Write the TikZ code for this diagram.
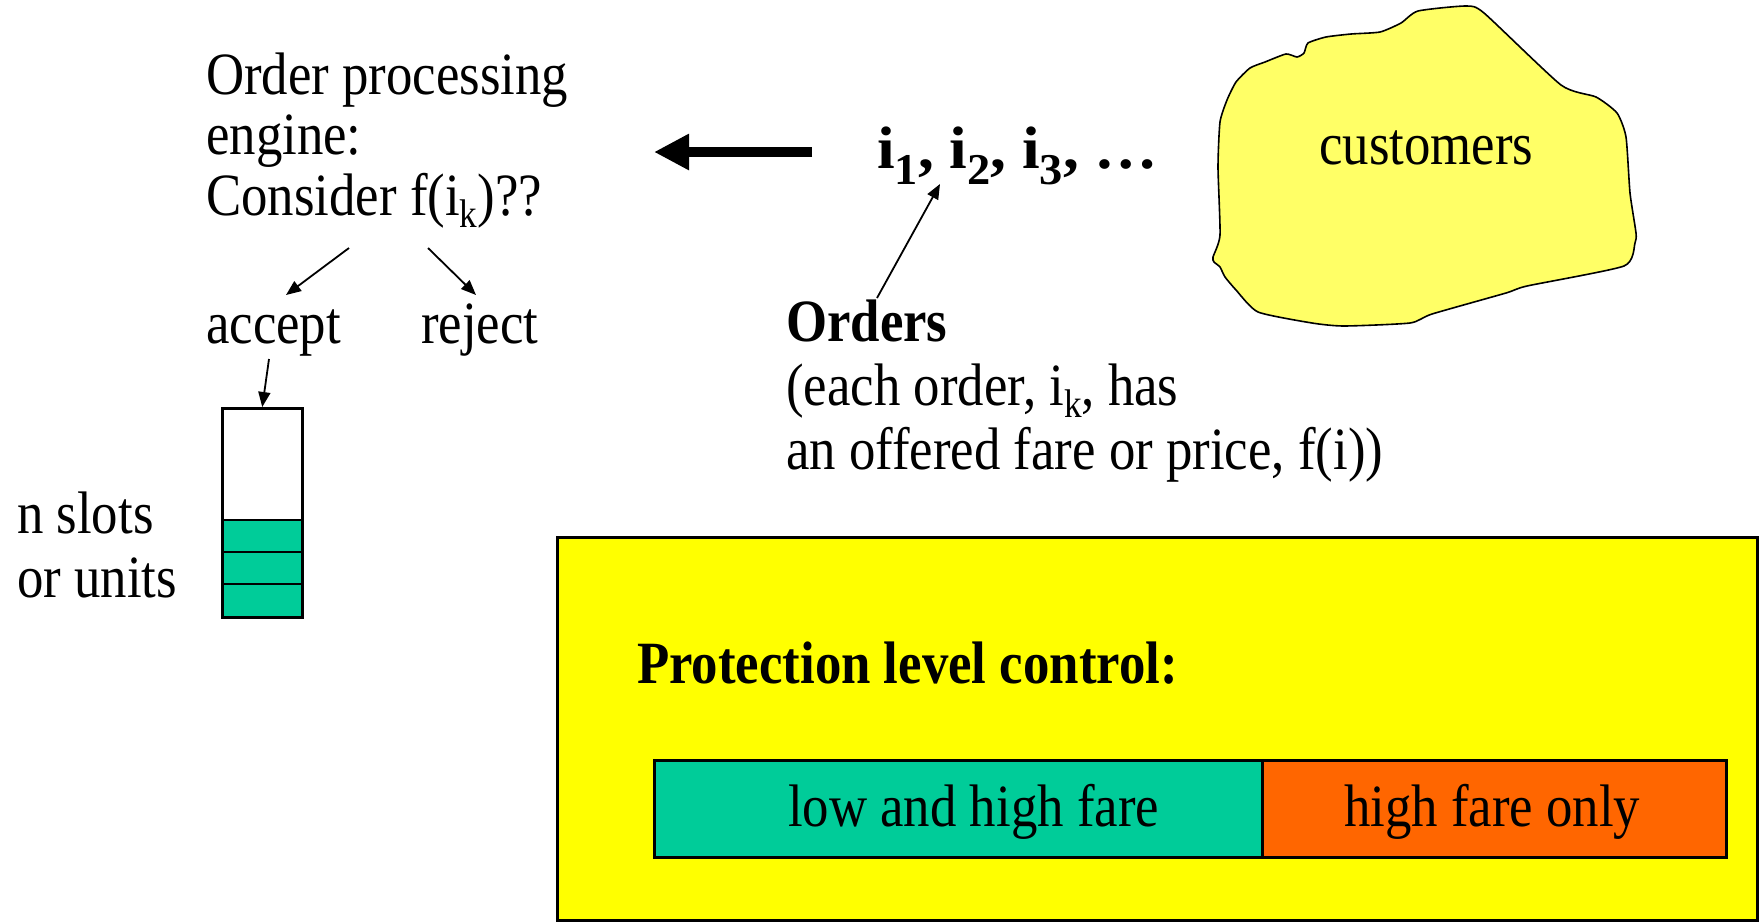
\documentclass[tikz,border=0pt]{standalone}
\usepackage{fontspec}
\setmainfont{Liberation Serif}[FakeStretch=0.88]
\usetikzlibrary{arrows.meta}
\definecolor{slotteal}{HTML}{00CC99}
\definecolor{fareorange}{HTML}{FF6600}
\definecolor{boxyellow}{HTML}{FFFF00}
\definecolor{blobyellow}{HTML}{FFFF66}
\newcommand\lowsub[1]{\raisebox{-0.2em}{\fontsize{40}{40}\selectfont #1}}
\newcommand\seqsub[1]{\raisebox{-0.27em}{\fontsize{44}{44}\selectfont #1}}
\begin{document}
\begin{tikzpicture}[x=1pt,y=-1pt,
  txt/.style={anchor=base west, inner sep=0pt, font=\fontsize{60}{72}\selectfont},
  btxt/.style={txt, font=\fontsize{60}{72}\selectfont\bfseries},
  thinarrow/.style={line width=1.8pt, -{Triangle[length=15pt,width=12pt]}},
  thickarrow/.style={line width=10.5pt, -{Triangle[length=35pt,width=34pt]}},
  boxline/.style={draw=black, line width=2.5pt}]
\useasboundingbox (0,0) rectangle (1764,922);

% left block
\node[txt] (l1) at (206,94) {Order processing};
\node[txt] (l2) at (206,154) {engine:};
\node[txt] (l3) at (206,215) {Consider f(i\lowsub{k})??};
\node[txt] (acc) at (206,343) {accept};
\node[txt] (rej) at (421,343) {reject};
\coordinate (a1s) at (349,248);
\coordinate (a1e) at (286,295);
\coordinate (a2s) at (428,248);
\coordinate (a2e) at (476,295);
\draw[thinarrow] (a1s) -- (a1e);
\draw[thinarrow] (a2s) -- (a2e);

% slot box
\node[boxline, minimum width=80pt, minimum height=209pt, inner sep=0pt, anchor=north west] (slots) at (221,407) {};
\fill[slotteal] (221,520) rectangle (301,616);
\draw[line width=2.2pt] (221,520) -- (301,520) (221,552) -- (301,552) (221,584) -- (301,584);
\node[boxline, minimum width=80pt, minimum height=209pt, inner sep=0pt, anchor=north west] at (221,407) {};
\coordinate (accdown) at (269,359);
\draw[thinarrow] (accdown) -- (slots.north);
\node[txt] (ns1) at (17,533) {n slots};
\node[txt] (ns2) at (17,597) {or units};

% middle
\coordinate (thk1) at (812,152);
\coordinate (thk2) at (654,152);
\draw[thickarrow] (thk1) -- (thk2);
\node[btxt] (seq) at (877,168) {\scalebox{1.2}[1]{i\seqsub{1}, i\seqsub{2}, i\seqsub{3}, …}};
\node[btxt] (ord) at (786,341) {Orders};
\node[txt] (ord2) at (786,405) {(each order, i\lowsub{k}, has};
\node[txt] (ord3) at (786,469) {an offered fare or price, f(i))};
\coordinate (oarrs) at (877,298);
\coordinate (oarre) at (940,184);
\draw[thinarrow] (oarrs) -- (oarre);

% customers blob
\draw[fill=blobyellow, line width=1.6pt] plot[smooth cycle, tension=0.35] coordinates {
 (1418,11) (1466,6) (1484,13) (1561,85) (1596,97) (1617,113) (1626,137)
 (1630,193) (1636,233) (1635,243) (1624,266) (1527,286) (1506,293)
 (1432,314) (1410,323) (1344,326) (1312,323) (1258,312) (1236,290)
 (1225,277) (1220,267) (1214,262) (1213,257) (1220,235) (1218,167)
 (1220,122) (1227,100) (1236,82) (1250,68) (1265,62) (1286,54)
 (1297,57) (1304,53) (1308,43) (1326,37) (1351,34) (1380,32) (1401,23)};
\node[txt] (cust) at (1319,164) {customers};

% protection box
\node[boxline, fill=boxyellow, minimum width=1200pt, minimum height=383pt, inner sep=0pt, anchor=north west] (pbox) at (556,536) {};
\node[btxt] (ptitle) at (637,683) {Protection level control:};
\node[boxline, fill=slotteal, minimum width=608pt, minimum height=97pt, inner sep=0pt, anchor=north west] (lowhigh) at (653,759) {};
\node[boxline, fill=fareorange, minimum width=464pt, minimum height=97pt, inner sep=0pt, anchor=north west] (highonly) at (1261,759) {};
\node[txt] (lhtxt) at (788,826) {low and high fare};
\node[txt] (hotxt) at (1344,826) {high fare only};
\end{tikzpicture}
\end{document}
